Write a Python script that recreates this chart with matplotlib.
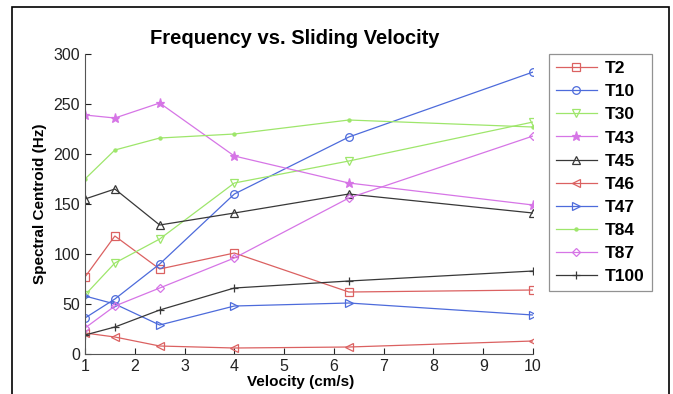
import matplotlib
matplotlib.use("Agg")
import matplotlib.pyplot as plt
from matplotlib.patches import Rectangle

plt.rcParams['font.family'] = ['Liberation Sans', 'DejaVu Sans']

velocity = [1, 1.6, 2.5, 4, 6.3, 10]

T2 = [77, 118, 85, 101, 62, 64]
T10 = [36, 55, 90, 160, 217, 282]
T30 = [59, 91, 115, 171, 193, 232]
T43 = [239, 236, 251, 198, 171, 149]
T45 = [155, 165, 129, 141, 160, 141]
T46 = [21, 17, 8, 6, 7, 13]
T47 = [58, 50, 29, 48, 51, 39]
T84 = [175, 204, 216, 220, 234, 227]
T87 = [26, 48, 66, 96, 156, 218]
T100 = [19, 27, 44, 66, 73, 83]

names = ['T2', 'T10', 'T30', 'T43', 'T45', 'T46', 'T47', 'T84', 'T87', 'T100']
series = [T2, T10, T30, T43, T45, T46, T47, T84, T87, T100]

red = (0.86, 0.38, 0.38)
blue = (0.30, 0.42, 0.86)
green = (0.62, 0.90, 0.42)
magenta = (0.84, 0.46, 0.90)
black = (0.22, 0.22, 0.22)
styles = [(red, 's'), (blue, 'o'), (green, 'v'), (magenta, '*'), (black, '^'),
          (red, '<'), (blue, '>'), (green, '.'), (magenta, 'D'), (black, '+')]

fig = plt.figure(figsize=(6.73, 3.94), dpi=100)
ax = fig.add_axes([0.1263, 0.1015, 0.6657, 0.7614])

for name, vals, (c, m) in zip(names, series, styles):
    ms = 5.5
    face = 'none'
    if m == 'D':
        ms = 4
    elif m == '*':
        ms = 6.5
        face = c
    elif m == '.':
        ms = 4.5
        face = c
    ax.plot(velocity, vals, color=c, marker=m, markersize=ms, markerfacecolor=face,
            markeredgecolor=c, markeredgewidth=0.9, linewidth=0.9, label=name)

ax.set_xlim(1, 10)
ax.set_ylim(0, 300)
ax.set_xticks(range(1, 11))
ax.set_yticks(range(0, 301, 50))
ax.tick_params(direction='in', length=4, width=0.8, labelsize=11.5, colors='#222222')
for s in ['top', 'right']:
    ax.spines[s].set_visible(False)
for s in ['left', 'bottom']:
    ax.spines[s].set_color('#555555')

ax.set_title('Frequency vs. Sliding Velocity', fontsize=14.5, fontweight='bold', pad=7, x=0.469)
ax.set_xlabel('Velocity (cm/s)', fontsize=11, fontweight='bold', labelpad=1, x=0.482)
ax.set_ylabel('Spectral Centroid (Hz)', fontsize=11, fontweight='bold', labelpad=5)

leg = ax.legend(loc='upper left', bbox_to_anchor=(1.035, 1.0), handlelength=2.4,
                prop={'weight': 'bold', 'size': 12.5}, fancybox=False,
                borderpad=0.4, labelspacing=0.46, handletextpad=0.45, borderaxespad=0)
leg.get_frame().set_edgecolor('#777777')
leg.get_frame().set_linewidth(0.9)

# outer frame
fig.patches.append(Rectangle((12 / 673, -0.01), 657 / 673, 1 - 7 / 394 + 0.01,
                             transform=fig.transFigure, fill=False,
                             edgecolor='black', linewidth=1.2))

fig.savefig('out.png', dpi=100)
